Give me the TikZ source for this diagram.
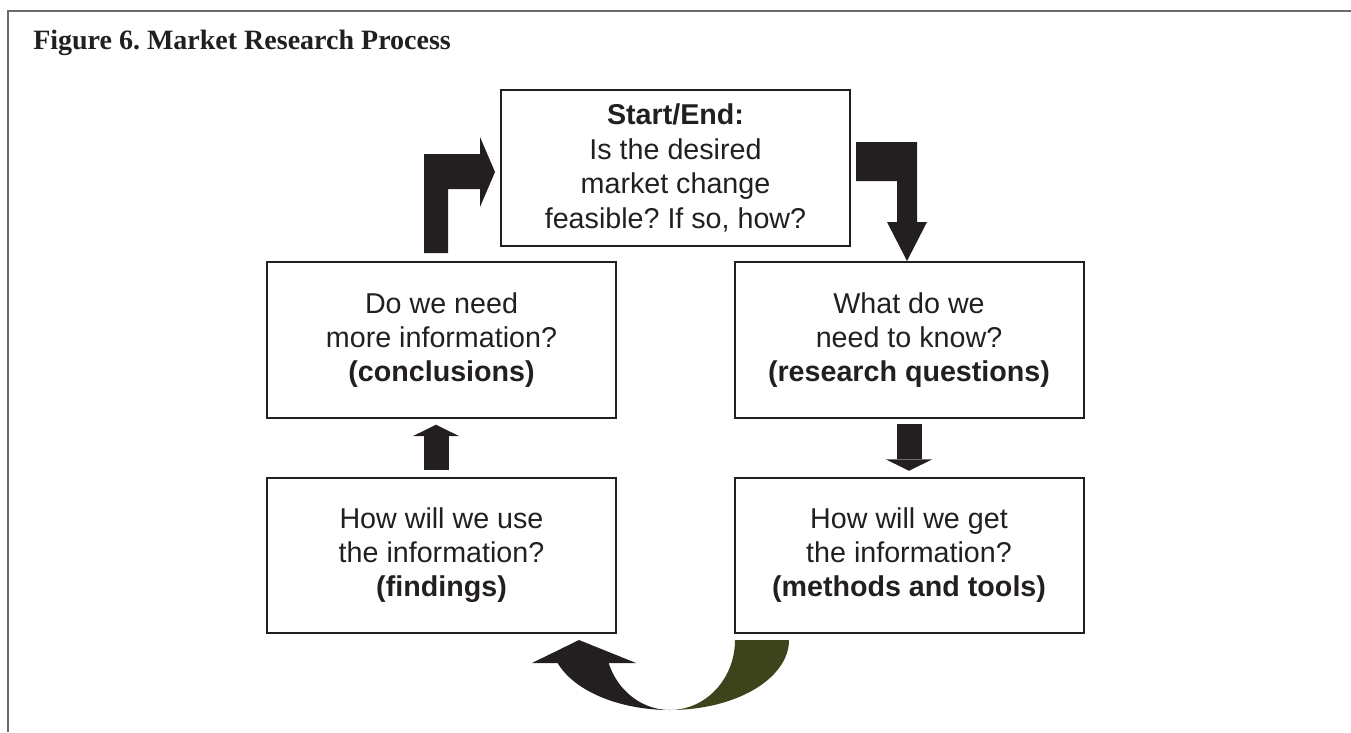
\documentclass[tikz,border=0pt]{standalone}
\usepackage{fontspec}
\setmainfont{Liberation Sans}
\newfontfamily\titlefont{Liberation Serif}
\usetikzlibrary{arrows.meta}
\frenchspacing
\definecolor{inkdark}{HTML}{231F20}
\definecolor{arcgreen}{HTML}{3D441C}
\definecolor{framegray}{HTML}{6B6B6B}

\begin{document}
\begin{tikzpicture}[x=0.75pt,y=-0.75pt,
	stepbox/.style={draw=inkdark, line width=1.5pt, minimum width=261.75pt,
		minimum height=116.6pt, inner sep=0pt, align=center, text=inkdark,
		font=\fontsize{21.5}{25.5}\selectfont},
	blockarrow/.style={draw=inkdark, line width=18.75pt,
		-{Triangle[width=34.5pt,length=8.5pt,line width=0pt]}}]
	\useasboundingbox (0,0) rectangle (1351,732);

	% frame and title
	\draw [framegray, line width=1.5pt] (8,732) -- (8,11) -- (1351,11);
	\node (title) [anchor=base west, inner sep=0pt, text=inkdark,
		font=\titlefont\bfseries\fontsize{21}{25}\selectfont] at (33,49)
		{Figure 6. Market Research Process};

	% boxes
	\node (start) [stepbox, font=\fontsize{21.5}{26}\selectfont] at (675.5,168)
		{\textbf{Start/End:}\\Is the desired\\market change\\feasible? If so, how?};
	\node (conclusions) [stepbox] at (441.5,340)
		{Do we need\\more information?\\\textbf{(conclusions)}};
	\node (questions) [stepbox] at (909,340)
		{What do we\\need to know?\\\textbf{(research questions)}};
	\node (findings) [stepbox] at (441.5,555.5)
		{How will we use\\the information?\\\textbf{(findings)}};
	\node (methods) [stepbox] at (909,555.5)
		{How will we get\\the information?\\\textbf{(methods and tools)}};

	% straight arrows
	\coordinate (leftshaft) at (436,0);
	\draw [blockarrow, shorten <=5.25pt, shorten >=4.5pt]
		(leftshaft |- findings.north) -- (leftshaft |- conclusions.south);
	\draw [blockarrow, shorten <=3.75pt, shorten >=4.5pt]
		(questions.south) -- (methods.north);

	% bent arrows
	\fill [inkdark] (424,253) -- (424,154) -- (480,154) -- (480,137) -- (495,172)
		-- (480,207) -- (480,189) -- (448,189) -- (448,253) -- cycle;
	\fill [inkdark] (856,142) -- (917,142) -- (917,222) -- (927,222) -- (907,261)
		-- (887,222) -- (897,222) -- (897,181) -- (856,181) -- cycle;

	% curved arrow at the bottom
	\fill [arcgreen] plot [domain=0:90, smooth, variable=\t]
		({670+119*cos(\t)},{640+70*sin(\t)})
		-- plot [domain=90:0, smooth, variable=\t] ({670+65*cos(\t)},{640+70*sin(\t)})
		-- cycle;
	\fill [inkdark] plot [domain=90:160.8, smooth, variable=\t]
		({670+119*cos(\t)},{640+70*sin(\t)})
		-- (532,663) -- (579,640) -- (636,663)
		-- plot [domain=160.8:90, smooth, variable=\t] ({670+65*cos(\t)},{640+70*sin(\t)})
		-- cycle;
\end{tikzpicture}
\end{document}
